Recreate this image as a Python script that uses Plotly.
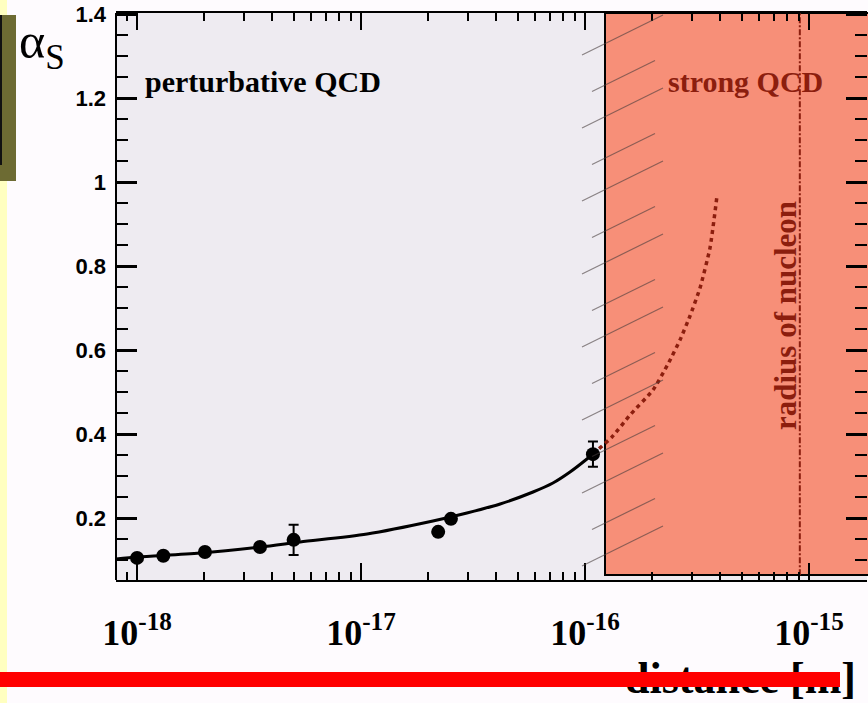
import plotly.graph_objects as go

# ---------------- data ----------------
point_x = [1.0e-18, 1.31e-18, 2.01e-18, 3.54e-18, 5.0e-18, 2.21e-17, 2.52e-17, 1.085e-16]
point_y = [0.105, 0.110, 0.119, 0.131, 0.148, 0.167, 0.198, 0.352]
point_err = [0, 0, 0, 0, 0.036, 0, 0, 0.030]

fit_x = [8.05e-19, 1.01e-18, 1.91e-18, 3.54e-18, 5.35e-18, 1.064e-17, 2.094e-17,
         2.97e-17, 4.18e-17, 5.86e-17, 7.19e-17, 8.57e-17, 1.02e-16, 1.085e-16]
fit_y = [0.1024, 0.1071, 0.1167, 0.1310, 0.1429, 0.1619, 0.1929,
         0.2119, 0.2333, 0.2619, 0.2833, 0.3095, 0.3405, 0.3524]

extrap_x = [1.085e-16, 1.319e-16, 1.588e-16, 2.012e-16, 2.347e-16, 2.655e-16,
            2.942e-16, 3.261e-16, 3.614e-16, 3.884e-16]
extrap_y = [0.3524, 0.3929, 0.4452, 0.5048, 0.5667, 0.6238, 0.681, 0.7476, 0.8429, 0.9667]

nucleon_radius = 9.1e-16
x_tickvals = [1e-18, 1e-17, 1e-16, 1e-15]
x_ticktext = ["<b>10<sup>-18</sup></b>", "<b>10<sup>-17</sup></b>",
              "<b>10<sup>-16</sup></b>", "<b>10<sup>-15</sup></b>"]
x_minor = [k * 10.0 ** d for d in range(-19, -14) for k in range(2, 10)]

# ---------------- layout geometry (pixels) ----------------
W, H = 868, 703
L, R, T, B = 116, 867, 13, 580
PW, PH = R - L, B - T


def px(x):
    return (x - L) / PW


def py(y):
    return (B - y) / PH


SALMON = "#f78f78"
LAVENDER = "#eeebf1"
DARKRED = "#8c1e0e"
SERIF = "Liberation Serif, Times New Roman, serif"
SANS = "Liberation Sans, Arial, sans-serif"

fig = go.Figure()

fig.add_trace(go.Scatter(x=fit_x, y=fit_y, mode="lines",
                         line=dict(color="black", width=3, shape="spline", smoothing=0.8),
                         showlegend=False, hoverinfo="skip"))
fig.add_trace(go.Scatter(x=extrap_x, y=extrap_y, mode="lines",
                         line=dict(color=DARKRED, width=3.5, dash="4px,4px", shape="spline", smoothing=0.5),
                         showlegend=False, hoverinfo="skip"))
fig.add_trace(go.Scatter(x=[nucleon_radius, nucleon_radius], y=[0.064, 1.4024], mode="lines",
                         line=dict(color=DARKRED, width=2, dash="6px,2px,2px,2px"),
                         showlegend=False, hoverinfo="skip"))
fig.add_trace(go.Scatter(x=point_x, y=point_y, mode="markers",
                         marker=dict(color="black", size=14),
                         error_y=dict(type="data", array=point_err, color="black", thickness=2, width=5),
                         showlegend=False))

shapes = []
# strong QCD region
shapes.append(dict(type="rect", xref="paper", yref="paper", x0=px(605), x1=1.03, y0=py(575), y1=1.0,
                   fillcolor=SALMON, line=dict(color="black", width=2), layer="below"))
# hatch lines along the boundary
yy = 55.0
i = 0
while yy <= 575:
    if i % 2 == 0:
        x0, x1, dy = 582, 663, 40
    else:
        x0, x1, dy = 592, 655, 31
    if yy - dy >= 12:
        shapes.append(dict(type="line", xref="paper", yref="paper", x0=px(x0), y0=py(yy), x1=px(x1), y1=py(yy - dy),
                           line=dict(color="rgba(70,60,60,0.6)", width=1.2), layer="above"))
    yy += 36.5
    i += 1
# left axis line
shapes.append(dict(type="line", xref="paper", yref="paper", x0=0, x1=0, y0=0, y1=1,
                   line=dict(color="black", width=2), layer="above"))
# slide decorations
shapes.append(dict(type="rect", xref="paper", yref="paper", x0=px(0), x1=px(7), y0=py(703), y1=py(181),
                   fillcolor="#ffffc0", line=dict(width=0), layer="above"))
shapes.append(dict(type="rect", xref="paper", yref="paper", x0=px(0), x1=px(7), y0=py(15), y1=py(0),
                   fillcolor="#ffffc0", line=dict(width=0), layer="above"))
shapes.append(dict(type="rect", xref="paper", yref="paper", x0=px(0), x1=px(16), y0=py(181), y1=py(15),
                   fillcolor="#6d6b33", line=dict(width=0), layer="above"))
shapes.append(dict(type="rect", xref="paper", yref="paper", x0=px(0), x1=px(2), y0=py(165), y1=py(15),
                   fillcolor="#111111", line=dict(width=0), layer="above"))

annotations = [
    dict(text="<b>perturbative QCD</b>", xref="paper", yref="paper", x=px(143), y=py(81),
         xanchor="left", yanchor="middle", showarrow=False, font=dict(family=SERIF, size=30, color="black")),
    dict(text="<b>strong QCD</b>", xref="paper", yref="paper", x=px(666), y=py(81),
         xanchor="left", yanchor="middle", showarrow=False, font=dict(family=SERIF, size=30, color=DARKRED)),
    dict(text="<b>radius of nucleon</b>", xref="paper", yref="paper", x=px(785), y=py(316),
         xanchor="center", yanchor="middle", textangle=-90, showarrow=False,
         font=dict(family=SERIF, size=31, color=DARKRED)),
    dict(text="α<sub>S</sub>", xref="paper", yref="paper", x=px(17), y=py(45),
         xanchor="left", yanchor="middle", showarrow=False, font=dict(family=SERIF, size=50, color="black")),
    dict(text="<b>distance [m]</b>", xref="paper", yref="paper", x=px(858), y=py(705),
         xanchor="right", yanchor="bottom", showarrow=False, font=dict(family=SERIF, size=44, color="black")),
    # red bar drawn over the axis title
    dict(text=" ", xref="paper", yref="paper", x=px(0), y=py(672), xanchor="left", yanchor="top",
         width=840, height=15, bgcolor="#ff0000", borderpad=0, borderwidth=0, showarrow=False),
]

fig.update_layout(
    width=W, height=H, autosize=False,
    margin=dict(l=L, r=W - R, t=T, b=H - B, pad=0),
    paper_bgcolor="#fefbfe", plot_bgcolor=LAVENDER,
    shapes=shapes, annotations=annotations,
    xaxis=dict(type="log", range=[-18.094, -14.741], showline=True, linecolor="black", linewidth=2,
               mirror="ticks", ticks="inside", ticklen=17, tickwidth=2, tickcolor="black",
               tickvals=x_tickvals, ticktext=x_ticktext, showgrid=False, zeroline=False,
               tickfont=dict(family=SERIF, size=36, color="black"), ticklabelstandoff=20,
               minor=dict(tickvals=x_minor, ticks="inside", ticklen=8, tickwidth=1.5, tickcolor="black",
                          showgrid=False)),
    yaxis=dict(range=[0.0524, 1.4024], showline=False, mirror="ticks", ticks="inside", ticklen=21,
               tickwidth=2.5, tickcolor="black", dtick=0.2, tick0=0, showgrid=False, zeroline=False,
               tickfont=dict(family=SANS, size=22, color="black", weight="bold"), ticklabelstandoff=9,
               minor=dict(dtick=0.05, tick0=0, ticks="inside", ticklen=12, tickwidth=2, tickcolor="black",
                          showgrid=False)),
)

fig.write_html("out.html")
